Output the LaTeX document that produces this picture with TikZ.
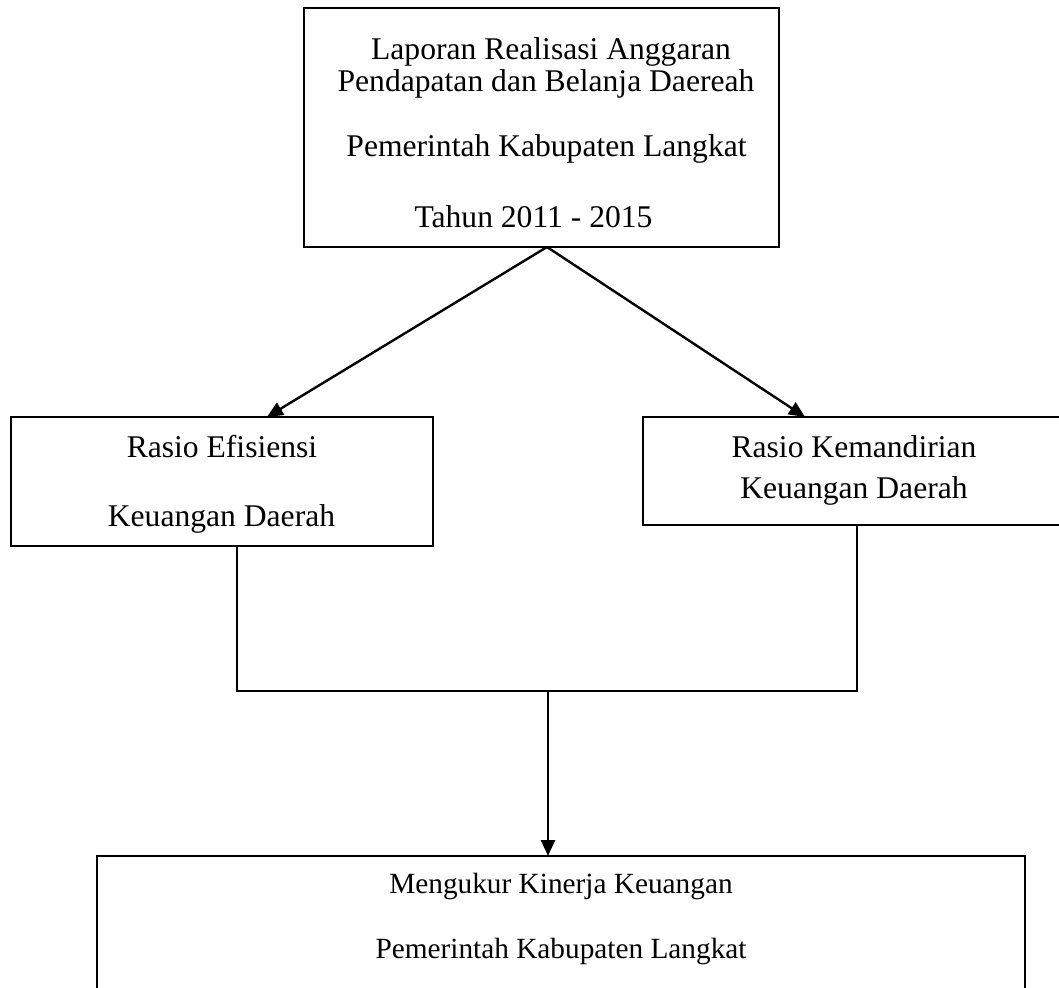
\documentclass[tikz,border=0pt]{standalone}
\usepackage{fontspec}
\setmainfont{Liberation Serif}
\usetikzlibrary{arrows.meta,calc}
\begin{document}
\begin{tikzpicture}[x=1pt,y=-1pt,
  box/.style={draw=black,line width=2.6pt,inner sep=0pt,outer sep=0pt,fill=none},
  txt/.style={anchor=base,inner sep=0pt,font=\fontsize{31.6}{36}\selectfont},
  txtsmall/.style={anchor=base,inner sep=0pt,font=\fontsize{29.3}{34}\selectfont},
  conn/.style={line width=2.4pt,draw=black},
  arr/.style={conn,-{Triangle[length=16pt,width=14pt]}}]
\useasboundingbox (0,0) rectangle (1059,987);
\clip (0,0) rectangle (1059,987);
% boxes
\node[box,minimum width=475pt,minimum height=239pt] (top) at (541.5,127.5) {};
\node[box,minimum width=422pt,minimum height=129pt] (lbox) at (222,481.5) {};
\node[box,minimum width=440pt,minimum height=108pt] (rbox) at (863,471) {};
\node[box,minimum width=928pt,minimum height=200pt] (bbox) at (561,956) {};
% texts
\node[txt] (t1) at (551,60) {Laporan Realisasi Anggaran};
\node[txt] (t2) at (546,92) {Pendapatan dan Belanja Daereah};
\node[txt] (t3) at (546.5,157) {Pemerintah Kabupaten Langkat};
\node[txt] (t4) at (533.5,227) {Tahun 2011 - 2015};
\node[txt] (l1) at (222,457) {Rasio Efisiensi};
\node[txt] (l2) at (221.5,526) {Keuangan Daerah};
\node[txt] (r1) at (854,457) {Rasio Kemandirian};
\node[txt] (r2) at (854,498) {Keuangan Daerah};
\node[txtsmall] (b1) at (561,893) {Mengukur Kinerja Keuangan};
\node[txtsmall] (b2) at (561,958) {Pemerintah Kabupaten Langkat};
% connectors
\draw[arr] ([xshift=5.5pt]top.south) -- ([xshift=45pt]lbox.north);
\draw[arr] ([xshift=5.5pt]top.south) -- ([xshift=-58pt]rbox.north);
\draw[conn] ([xshift=15pt]lbox.south) -- ++(0,145) coordinate (join0) -| ([xshift=-6pt]rbox.south);
\coordinate (join) at (548,691);
\draw[arr] (join) -- (join |- bbox.north);
\end{tikzpicture}
\end{document}
